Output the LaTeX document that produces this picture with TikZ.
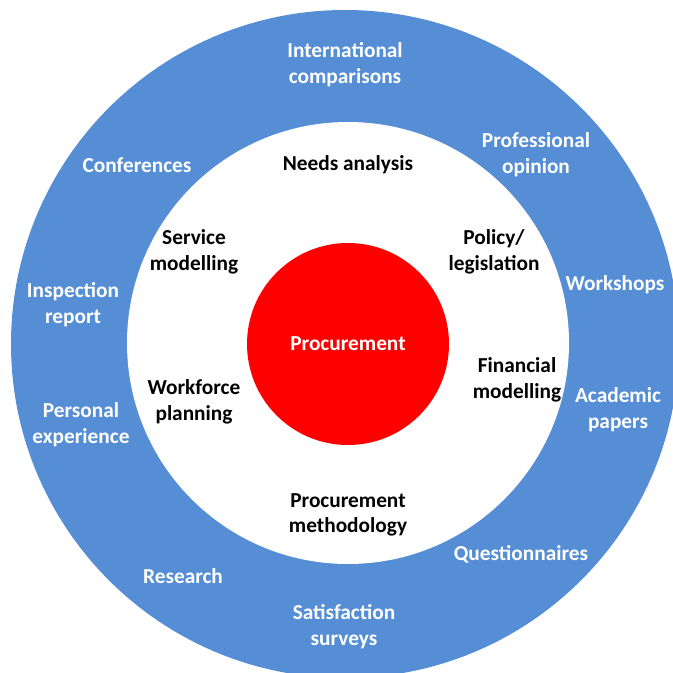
\documentclass[tikz,border=0pt]{standalone}
\usepackage{fontspec}
\setmainfont{Carlito}
\definecolor{ringblue}{RGB}{85,142,213}
\definecolor{corered}{RGB}{255,0,0}
\begin{document}
\begin{tikzpicture}[x=0.75pt, y=-0.75pt,
    lbl/.style={align=center, font=\bfseries\fontsize{16}{19.3}\selectfont, inner sep=0pt},
    outer/.style={lbl, text=white},
    inner/.style={lbl, text=black}]
        \useasboundingbox (0,0) rectangle (673,673);
        \clip (0,0) rectangle (673,673);
        % rings
        \fill[ringblue] (345,344) circle[radius=334];
        \fill[white] (348,343) circle[radius=221];
        \node[circle, fill=corered, minimum size=151.5pt, inner sep=0pt,
              text=white, font=\bfseries\fontsize{16}{19.3}\selectfont] (proc) at (348,344) {Procurement};
        % inner ring
        \node[inner] (needs) at (348,165) {Needs analysis};
        \node[inner] (service) at (194,252) {Service\\modelling};
        \node[inner] (policy) at (494,252) {Policy/\\legislation};
        \node[inner] (financial) at (517,380) {Financial\\modelling};
        \node[inner] (workforce) at (194,402) {Workforce\\planning};
        \node[inner] (method) at (348,515) {Procurement\\methodology};
        % outer ring
        \node[outer] (intl) at (345,65) {International\\comparisons};
        \node[outer] (profop) at (536,155) {Professional\\opinion};
        \node[outer] (conf) at (137,165) {Conferences};
        \node[outer] (inspect) at (73,305) {Inspection\\report};
        \node[outer] (workshops) at (615,285) {Workshops};
        \node[outer] (academic) at (618,410) {Academic\\papers};
        \node[outer] (personal) at (81,425) {Personal\\experience};
        \node[outer] (quest) at (521,554) {Questionnaires};
        \node[outer] (research) at (183,576) {Research};
        \node[outer] (survey) at (344,627) {Satisfaction\\surveys};
    \end{tikzpicture}
\end{document}
